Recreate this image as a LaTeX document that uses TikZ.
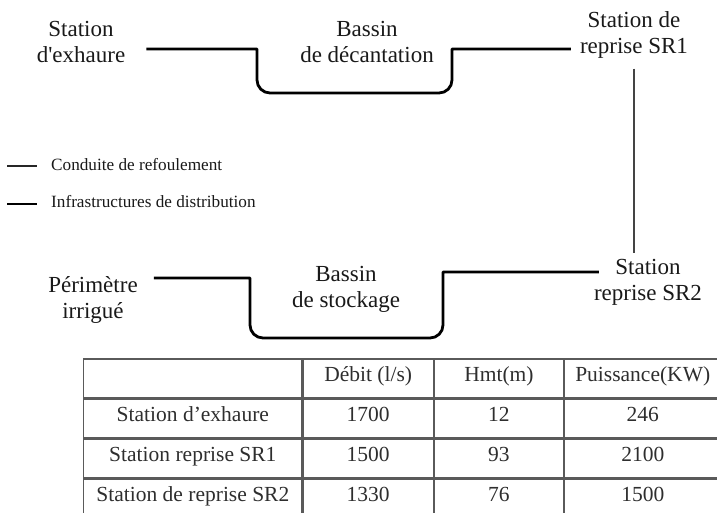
\documentclass[tikz,border=0pt]{standalone}
\usepackage{fontspec}
\setmainfont{Liberation Serif}
\newfontfamily\sitefont{Liberation Serif}
\usetikzlibrary{matrix,positioning}
\definecolor{tabline}{HTML}{5A5A5A}
\definecolor{tabtext}{HTML}{2E2E2E}
\definecolor{linkgrey}{HTML}{444444}

\tikzset{
  sitetext/.style={align=center, inner sep=0, text=black!90,
    font=\sitefont\fontsize{23}{26}\selectfont},
  pipe/.style={line width=2.8, black, line join=round},
  link/.style={line width=2, linkgrey},
  legtext/.style={anchor=west, inner sep=0, text=black!90,
    font=\fontsize{17.2}{19}\selectfont},
  legline/.style={line width=2.6, black!85},
  cell/.style={draw=tabline, line width=1.3, minimum height=38.75,
    inner sep=0, outer sep=0, anchor=center, text=tabtext,
    text height=14, text depth=8,
    font=\fontsize{21.5}{24}\selectfont},
}

\begin{document}
\begin{tikzpicture}[x=1pt,y=-1pt]
\useasboundingbox (0,0) rectangle (717,513);
% stations and bassins
\node[sitetext] (exh) at (81,42) {Station\\d'exhaure};
\node[sitetext] (deca) at (367,42) {Bassin\\de décantation};
\node[sitetext] (sr1) at (634,35) {Station de\\reprise SR1};
\node[sitetext] (peri) at (93,300) {Périmètre\\irrigué};
\node[sitetext] (stock) at (346,289) {Bassin\\de stockage};
\node[sitetext] (sr2) at (648,282) {Station\\reprise SR2};
% corners of the bassins
\coordinate (d1) at (257,49);
\coordinate (d2) at (257,93);
\coordinate (d3) at (452,93);
\coordinate (d4) at (452,49);
\coordinate (b1) at (250,278);
\coordinate (b2) at (250,338);
\coordinate (b3) at (443,338);
\coordinate (b4) at (443,272);
% conduites
\draw[pipe, shorten <=21, shorten >=9] (exh.east |- d1) -- (d1)
  [rounded corners=13] -- (d2) -- (d3) [sharp corners] -- (d4) -- (sr1.west |- d1);
\draw[pipe, shorten <=16, shorten >=-5] (peri.east |- b1) -- (b1)
  [rounded corners=13] -- (b2) -- (b3) [sharp corners] -- (b4) -- (sr2.west |- b4);
\draw[link, shorten <=10, shorten >=6] (sr1.south) -- (sr1.south |- sr2.north);
% legende
\coordinate (lg1a) at (7,166);
\coordinate (lg1b) at (37,166);
\coordinate (lg2a) at (7,204);
\coordinate (lg2b) at (37,204);
\draw[legline] (lg1a) -- (lg1b);
\draw[legline, black] (lg2a) -- (lg2b);
\node[legtext] (lg1) at (51,165) {Conduite de refoulement};
\node[legtext] (lg2) at (51,202) {Infrastructures de distribution};
% tableau
\matrix (tab) [matrix of nodes, nodes in empty cells, anchor=north west,
  inner sep=0, column sep=0, row sep=0, nodes={cell},
  column 1/.style={nodes={minimum width=218}},
  column 2/.style={nodes={minimum width=130}},
  column 3/.style={nodes={minimum width=129}},
  column 4/.style={nodes={minimum width=156}}] at (83,358) {
  & Débit (l/s) & Hmt(m) & Puissance(KW) \\
  Station d’exhaure & 1700 & 12 & 246 \\
  Station reprise SR1 & 1500 & 93 & 2100 \\
  Station de reprise SR2 & 1330 & 76 & 1500 \\
};
\end{tikzpicture}
\end{document}
